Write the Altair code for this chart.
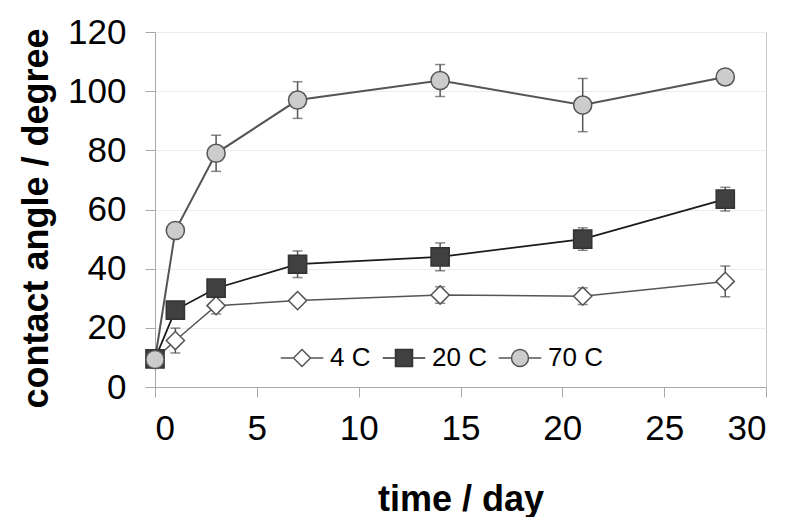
import altair as alt
import pandas as pd

days = [0, 1, 3, 7, 14, 21, 28]
series_names = ["4 C", "20 C", "70 C"]

ca_4c = [9.5, 15.7, 27.5, 29.2, 31.1, 30.7, 35.7]
err_4c = [1.0, 4.2, 2.8, 1.5, 2.8, 2.8, 5.2]
ca_20c = [9.5, 26.0, 33.4, 41.5, 44.0, 50.0, 63.5]
err_20c = [1.0, 1.5, 1.5, 4.5, 4.7, 3.8, 4.0]
ca_70c = [9.3, 52.9, 79.0, 97.0, 103.6, 95.3, 104.8]
err_70c = [1.0, 2.0, 6.1, 6.2, 5.4, 9.0, 1.0]

x_ticks = [0, 5, 10, 15, 20, 25, 30]
y_ticks = [0, 20, 40, 60, 80, 100, 120]

line_colors = ["#555555", "#1a1a1a", "#555555"]
line_widths = [1.5, 2.0, 1.5]
fill_colors = ["#ffffff", "#404040", "#cccccc"]
stroke_colors = ["#555555", "#333333", "#555555"]
point_shapes = ["diamond", "square", "circle"]
legend_shapes = [
    "M-2.5,0H-1M1,0H2.5M-1,0L0,-1L1,0L0,1Z",
    "M-2.5,0H-1M1,0H2.5M-1,-1H1V1H-1Z",
    "M-2.5,0H-1M1,0H2.5M-1,0A1,1,0,1,1,1,0A1,1,0,1,1,-1,0Z",
]

rows = []
for name, vals, errs in zip(series_names, [ca_4c, ca_20c, ca_70c], [err_4c, err_20c, err_70c]):
    for d, v, e in zip(days, vals, errs):
        rows.append({"series": name, "day": d, "angle": v, "lo": v - e, "hi": v + e})
df = pd.DataFrame(rows)

FONT = "Liberation Sans"

def xenc():
    return alt.X("day:Q", scale=alt.Scale(domain=[0, 30], nice=False),
                 axis=alt.Axis(values=x_ticks, title="time / day", grid=False,
                               tickSize=10, labelPadding=14, titlePadding=36,
                               titleFontSize=36))

def yenc(field):
    return alt.Y(field, scale=alt.Scale(domain=[0, 120], nice=False),
                 axis=alt.Axis(values=y_ticks, title="contact angle / degree", grid=True,
                               tickSize=10, labelPadding=19, titlePadding=12,
                               titleFontSize=36, titleY=186))

base = alt.Chart(df)

lines = base.mark_line().encode(
    x=xenc(), y=yenc("angle:Q"),
    stroke=alt.Stroke("series:N", scale=alt.Scale(domain=series_names, range=line_colors), legend=None),
    strokeWidth=alt.StrokeWidth("series:N", scale=alt.Scale(domain=series_names, range=line_widths), legend=None),
)

rules = base.mark_rule(color="#555555", strokeWidth=1.5).encode(
    x=xenc(), y=yenc("lo:Q"), y2="hi:Q")
cap_lo = base.mark_tick(orient="horizontal", color="#555555", size=10, thickness=1.5).encode(
    x=xenc(), y=yenc("lo:Q"))
cap_hi = base.mark_tick(orient="horizontal", color="#555555", size=10, thickness=1.5).encode(
    x=xenc(), y=yenc("hi:Q"))

points = base.mark_point(filled=True, opacity=1, strokeWidth=1.5, size=330).encode(
    x=xenc(), y=yenc("angle:Q"),
    shape=alt.Shape("series:N", scale=alt.Scale(domain=series_names, range=point_shapes), legend=None),
    fill=alt.Fill("series:N", scale=alt.Scale(domain=series_names, range=fill_colors), legend=None),
    stroke=alt.Stroke("series:N", scale=alt.Scale(domain=series_names, range=stroke_colors), legend=None),
)

leg = alt.Legend(title=None, orient="none", legendX=134, legendY=313, direction="horizontal",
                 symbolSize=289, symbolStrokeWidth=1.5, symbolOpacity=1, labelFont=FONT,
                 labelFontSize=26, labelColor="#000000", labelOffset=15, columnPadding=8,
                 padding=0, labelLimit=0)

legend_layer = base.mark_point(filled=True, opacity=1, strokeWidth=1.5).encode(
    x=xenc(), y=yenc("angle:Q"),
    shape=alt.Shape("series:N", scale=alt.Scale(domain=series_names, range=legend_shapes), legend=leg),
    fill=alt.Fill("series:N", scale=alt.Scale(domain=series_names, range=fill_colors), legend=leg),
    stroke=alt.Stroke("series:N", scale=alt.Scale(domain=series_names, range=stroke_colors), legend=leg),
).transform_filter("datum.day < 0")

chart = alt.layer(lines, rules, cap_lo, cap_hi, points, legend_layer).resolve_scale(
    shape="independent", fill="independent", stroke="independent", strokeWidth="independent"
).resolve_legend(
    shape="independent", fill="independent", stroke="independent"
).properties(
    width=611, height=355,
    padding={"left": 10, "top": 7, "right": 5, "bottom": 0},
).configure_view(
    stroke="#c8c8c8", strokeWidth=1
).configure_axis(
    domainColor="#a8a8a8", tickColor="#a8a8a8", gridColor="#ececec",
    labelFont=FONT, labelFontSize=35, labelColor="#000000",
    titleFont=FONT, titleFontWeight="bold", titleColor="#000000",
)

chart.save("out.html", embed_options={"renderer": "svg", "actions": False})
